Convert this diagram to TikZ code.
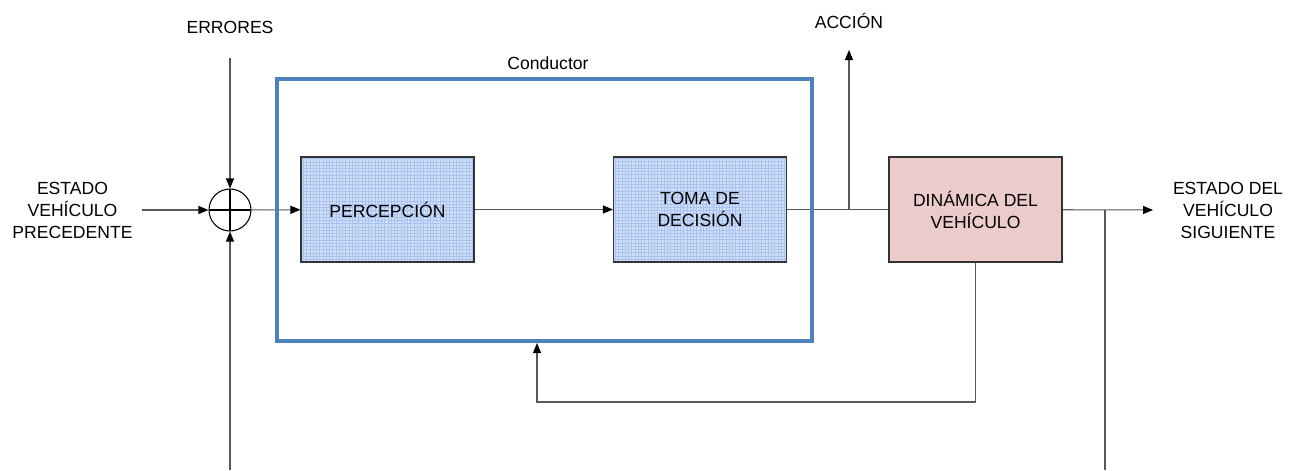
\documentclass[tikz,border=0pt]{standalone}
\usepackage{fontspec}
\setmainfont{Liberation Sans}
\usetikzlibrary{arrows.meta}

\definecolor{cellfill}{RGB}{208,223,247}
\definecolor{cellgrid}{RGB}{168,195,238}
\definecolor{dynfill}{RGB}{236,204,203}
\definecolor{drvblue}{RGB}{79,129,189}

\begin{document}
\begin{tikzpicture}[
    every node/.style={font=\fontsize{10}{12.5}\selectfont, align=center},
    line/.style={black!65, line width=0.6pt},
    arr/.style={line, -{Triangle[length=2mm,width=1.6mm,color=black]}},
    block/.style={draw=black!80, line width=0.6pt, minimum width=3.46cm, minimum height=2.1cm},
    gridblock/.style={block, fill=cellfill,
        path picture={\draw[cellgrid, line width=0.25pt]
            (path picture bounding box.south west) grid[step=0.065]
            (path picture bounding box.north east);}},
    dynblock/.style={block, fill=dynfill},
    driver/.style={draw=drvblue, line width=2.3pt, minimum width=10.7cm, minimum height=5.24cm},
    sumnode/.style={circle, draw, line width=0.6pt, minimum size=0.84cm, inner sep=0pt,
        path picture={\draw[line width=0.9pt]
            (path picture bounding box.north) -- (path picture bounding box.south)
            (path picture bounding box.west) -- (path picture bounding box.east);}},
]
    \useasboundingbox (0,0) rectangle (25.98,9.4);

    % blocks
    \node[sumnode] (sum) at (4.6,5.2) {};
    \node[gridblock] (per) at (7.75,5.21) {PERCEPCIÓN};
    \node[gridblock] (dec) at (14.0,5.21) {TOMA DE\\DECISIÓN};
    \node[dynblock] (dyn) at (19.51,5.21) {DINÁMICA DEL\\VEHÍCULO};

    % labels
    \node (inlabel) at (1.45,5.2) {ESTADO\\VEHÍCULO\\PRECEDENTE};
    \node (errlabel) at (4.6,8.86) {ERRORES};
    \node (actlabel) at (16.98,8.98) {ACCIÓN};
    \node (outlabel) at (24.56,5.2) {ESTADO DEL\\VEHÍCULO\\SIGUIENTE};

    % free ends of the signal lines
    \coordinate (in) at (2.84,5.2);
    \coordinate (errtop) at (4.6,8.24);
    \coordinate (errbot) at (4.6,0);
    \coordinate (split) at (16.98,5.2);
    \coordinate (acttop) at (16.98,8.4);
    \coordinate (out) at (23.06,5.2);
    \coordinate (tap) at (22.1,5.2);
    \coordinate (tapbot) at (22.1,0);
    \coordinate (fbcorner) at (10.74,1.36);

    \draw[arr] (in) -- (sum);
    \draw[arr] (errtop) -- (sum);
    \draw[arr] (errbot) -- (sum);
    \draw[arr] (sum) -- (per);
    \draw[arr] (per) -- (dec);
    \draw[line] (dec) -- (dyn);
    \draw[arr] (split) -- (acttop);
    \draw[arr] (dyn) -- (out);
    \draw[line] (tap) -- (tapbot);

    % driver frame on top of the lines
    \node[driver] (driver) at (10.89,5.2) {};
    \node (drvlabel) at (10.96,8.14) {Conductor};

    % feedback from the vehicle
    \draw[arr] (dyn.south) |- (fbcorner) -- (fbcorner |- driver.south);
\end{tikzpicture}
\end{document}
